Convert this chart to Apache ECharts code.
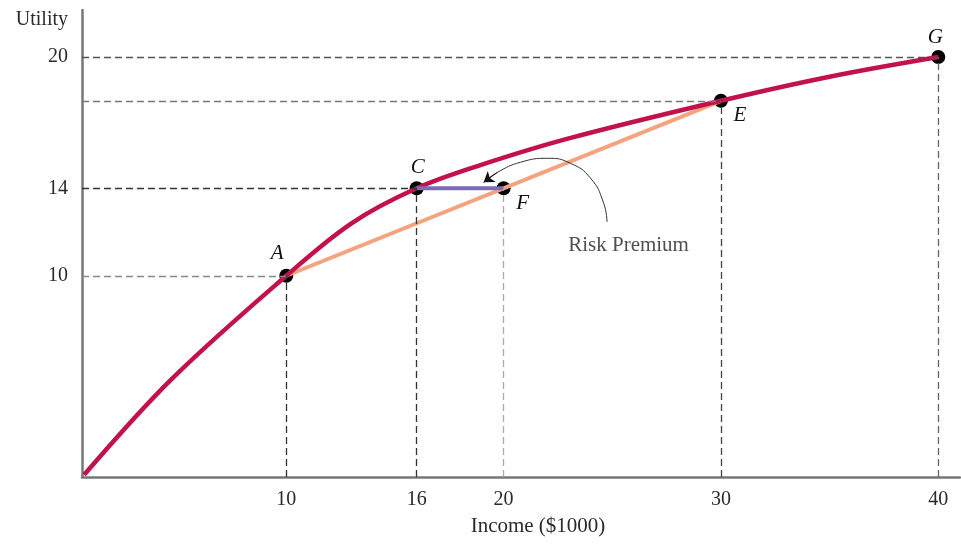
<!DOCTYPE html>
<html><head><meta charset="utf-8">
<script src="https://cdn.jsdelivr.net/npm/echarts@6/dist/echarts.min.js"></script>
<style>html,body{margin:0;padding:0;background:#fff}#c{width:961px;height:545px}</style>
</head><body><div id="c"></div>
<script>
// Utility curve
const curveX = [0.7, 4.7, 10, 13, 16, 19, 23, 30, 35, 40];
const curveY = [0.9, 5.25, 10, 12.4, 14, 15.08, 16.28, 18, 19.1, 20];
// Marked points
const pointNames = ['A', 'C', 'F', 'E', 'G'];
const pointX = [10, 16, 20, 30, 40];
const pointY = [10, 14, 14, 18, 20];
// Chord A-E and risk premium C-F
const chordX = [10, 30];
const chordY = [10, 18];
const premX = [16, 20];
const premY = [14, 14];
// Risk premium pointer path
const arrowX = [24.76, 24.59, 24.0, 23.08, 22.02, 20.78, 19.72, 19.08];
const arrowY = [12.46, 13.36, 14.46, 15.14, 15.37, 15.19, 14.73, 14.27];
const noteText = 'Risk Premium';
const noteX = 25.75, noteY = 11.38;
// Tick labels
const xTicks = [10, 16, 20, 30, 40];
const yTicks = [10, 14, 20];

const X_MIN = 0.6, X_MAX = 41, Y_MIN = 0.8, Y_MAX = 22.15;
const serif = '"Liberation Serif","DejaVu Serif",serif';

const hGuide = {G: '#555', E: '#777', C: '#333', A: '#888'};
const vGuide = {A: '#333', C: '#333', F: '#aaa', E: '#444', G: '#666'};
const labelOff = {A: [-9, -22], C: [1, -21], F: [19, 15], E: [19, 15], G: [-3, -20]};

const zip = (a, b) => a.map((v, i) => [v, b[i]]);

const guideLines = [];
pointNames.forEach((n, i) => {
  if (hGuide[n]) guideLines.push([{coord: [X_MIN, pointY[i]], lineStyle: {color: hGuide[n]}}, {coord: [pointX[i], pointY[i]]}]);
  if (vGuide[n]) guideLines.push([{coord: [pointX[i], Y_MIN], lineStyle: {color: vGuide[n]}}, {coord: [pointX[i], pointY[i]]}]);
});

const txt = {fontFamily: serif, fontSize: 20, color: '#2a2a2a'};

const chart = echarts.init(document.getElementById('c'), null, {renderer: 'canvas'});
chart.setOption({
  backgroundColor: '#fff',
  animation: false,
  grid: {left: 82, right: 1, top: 10, bottom: 68, containLabel: false, outerBoundsMode: 'none'},
  xAxis: {
    type: 'value', min: X_MIN, max: X_MAX,
    name: 'Income ($1000)', nameLocation: 'middle', nameGap: 39,
    nameTextStyle: Object.assign({}, txt, {fontSize: 21, padding: [0, 0, 0, 34]}),
    axisLine: {show: true, lineStyle: {color: '#777', width: 2.5}},
    axisTick: {show: false},
    splitLine: {show: false},
    axisLabel: Object.assign({customValues: xTicks, margin: 13}, txt)
  },
  yAxis: {
    type: 'value', min: Y_MIN, max: Y_MAX,
    name: 'Utility', nameLocation: 'end', nameGap: -10,
    nameTextStyle: Object.assign({}, txt, {align: 'right', verticalAlign: 'middle', padding: [0, 14, 0, 0]}),
    axisLine: {show: true, lineStyle: {color: '#777', width: 2.5}},
    axisTick: {show: false},
    splitLine: {show: false},
    axisLabel: Object.assign({customValues: yTicks, margin: 14}, txt)
  },
  series: [
    {
      type: 'line', data: [], silent: true,
      markLine: {
        silent: true, symbol: 'none', label: {show: false},
        lineStyle: {type: [7, 4], width: 1.3},
        data: guideLines
      }
    },
    {
      type: 'line', data: zip(chordX, chordY), showSymbol: false, silent: true,
      lineStyle: {color: '#f5a27e', width: 4}
    },
    {
      type: 'line', data: zip(curveX, curveY), showSymbol: false, smooth: 0.35, silent: true,
      lineStyle: {color: '#c3114b', width: 4.5}
    },
    {
      type: 'line', data: zip(premX, premY), showSymbol: false, silent: true,
      lineStyle: {color: '#7a6db3', width: 4}
    },
    {
      type: 'line', data: zip(arrowX, arrowY), showSymbol: false, smooth: true, silent: true,
      lineStyle: {color: '#333', width: 1}
    },
    {
      type: 'line', data: [], silent: true,
      markLine: {
        silent: true, symbol: ['none', 'arrow'], symbolSize: 10, label: {show: false},
        lineStyle: {color: '#111', width: 1, type: 'solid'},
        itemStyle: {color: '#111'},
        data: [[{coord: [arrowX[6], arrowY[6]]}, {coord: [arrowX[7], arrowY[7]]}]]
      }
    },
    {
      type: 'scatter', silent: true, symbolSize: 14,
      itemStyle: {color: '#000', opacity: 1},
      data: pointNames.map((n, i) => ({
        name: n, value: [pointX[i], pointY[i]],
        label: {show: true, position: 'inside', offset: labelOff[n], formatter: n,
          fontFamily: serif, fontStyle: 'italic', fontSize: 21, color: '#111'}
      }))
    },
    {
      type: 'scatter', silent: true, symbolSize: 0,
      data: [{value: [noteX, noteY], label: {show: true, position: 'inside', formatter: noteText,
        fontFamily: serif, fontSize: 21, color: '#222'}}]
    }
  ]
});
</script></body></html>
